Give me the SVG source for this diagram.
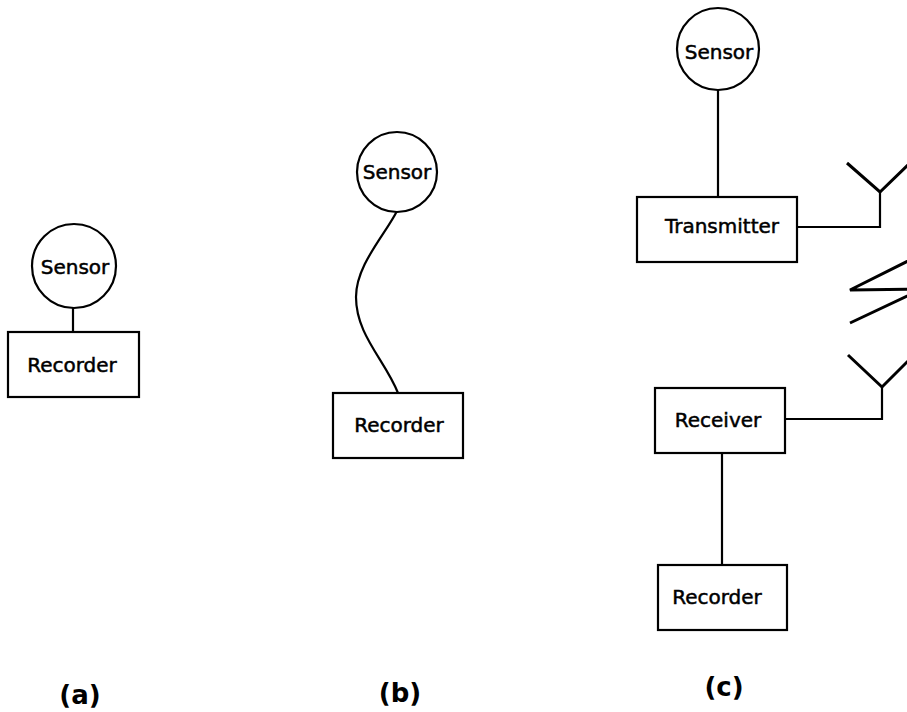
<svg xmlns="http://www.w3.org/2000/svg" width="907" height="712" viewBox="0 0 907 712">
<style>
.n{fill:#fff;stroke:#000;stroke-width:2.2}
.t{font-family:"DejaVu Sans",sans-serif;font-size:20px;fill:#000;stroke:#000;stroke-width:0.5;text-anchor:middle}
.lb{font-family:"DejaVu Sans",sans-serif;font-size:26px;font-weight:bold;fill:#000;text-anchor:middle}
.c{fill:none;stroke:#000;stroke-width:2.2;stroke-linejoin:miter}
.ant{fill:none;stroke:#000;stroke-width:3}
</style>
<rect width="907" height="712" fill="#fff"/>
<g id="connectors">
<line class="c" x1="73" y1="308" x2="73" y2="332"/>
<path class="c" d="M397,211 C385,235 356,265 356,297 C356,335 385,360 398,393"/>
<line class="c" x1="718" y1="90" x2="718" y2="197"/>
<polyline class="c" points="797,227 880,227 880,192"/>
<polyline class="c" points="785,419 882,419 882,387"/>
<line class="c" x1="722" y1="453" x2="722" y2="565"/>
</g>
<g id="antenna-tx"><polyline class="ant" points="847,163 880,192 912,161"/></g>
<g id="radio-link"><polyline class="ant" points="920,255 850,290 922,289 850,323"/></g>
<g id="antenna-rx"><polyline class="ant" points="848,355 882,387 912,357"/></g>
<g id="sensor-a"><circle class="n" cx="74" cy="266" r="42"/><text class="t" x="75" y="274">Sensor</text></g>
<g id="recorder-a"><rect class="n" x="8" y="332" width="131" height="65"/><text class="t" x="72" y="372">Recorder</text></g>
<g id="sensor-b"><circle class="n" cx="397" cy="172" r="40"/><text class="t" x="397" y="179">Sensor</text></g>
<g id="recorder-b"><rect class="n" x="333" y="393" width="130" height="65"/><text class="t" x="399" y="432">Recorder</text></g>
<g id="sensor-c"><circle class="n" cx="718" cy="49" r="41"/><text class="t" x="719" y="59">Sensor</text></g>
<g id="transmitter"><rect class="n" x="637" y="197" width="160" height="65"/><text class="t" x="722" y="233">Transmitter</text></g>
<g id="receiver"><rect class="n" x="655" y="388" width="130" height="65"/><text class="t" x="718" y="427">Receiver</text></g>
<g id="recorder-c"><rect class="n" x="658" y="565" width="129" height="65"/><text class="t" x="717" y="604">Recorder</text></g>
<g id="labels">
<text class="lb" x="80" y="704">(a)</text>
<text class="lb" x="400" y="702">(b)</text>
<text class="lb" x="724" y="696">(c)</text>
</g>
</svg>
